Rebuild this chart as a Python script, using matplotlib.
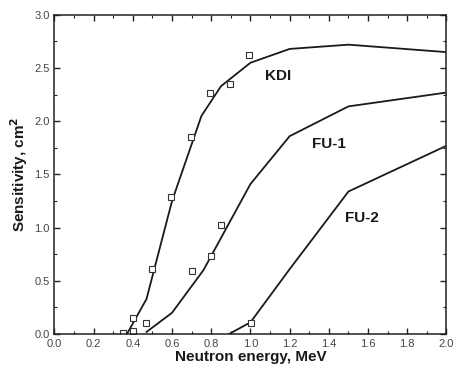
import matplotlib
matplotlib.use("Agg")
import matplotlib.pyplot as plt
from matplotlib.ticker import MultipleLocator

plt.rcParams['font.family'] = ['Liberation Sans', 'DejaVu Sans']

# Calculated curves
kdi_x = [0.37, 0.47, 0.60, 0.75, 0.85, 1.0, 1.2, 1.5, 2.0]
kdi_y = [0.0, 0.33, 1.25, 2.05, 2.33, 2.55, 2.68, 2.72, 2.65]
fu1_x = [0.47, 0.60, 0.76, 1.0, 1.2, 1.5, 2.0]
fu1_y = [0.02, 0.20, 0.60, 1.41, 1.86, 2.14, 2.27]
fu2_x = [0.89, 1.0, 1.2, 1.5, 2.0]
fu2_y = [0.0, 0.11, 0.61, 1.34, 1.77]

# Measured points
kdi_mx = [0.35, 0.40, 0.40, 0.50, 0.595, 0.695, 0.795, 0.895, 0.995]
kdi_my = [0.013, 0.147, 0.028, 0.61, 1.285, 1.853, 2.27, 2.35, 2.62]
fu1_mx = [0.467, 0.70, 0.80, 0.85]
fu1_my = [0.10, 0.596, 0.737, 1.025]
fu2_mx = [1.005]
fu2_my = [0.103]

labels = ["KDI", "FU-1", "FU-2"]
label_x = [1.14, 1.40, 1.57]
label_y = [2.43, 1.79, 1.09]

fig = plt.figure(figsize=(4.57, 3.72), dpi=100)
ax = fig.add_axes([0.119, 0.102, 0.858, 0.858])

lc = '#1a1a1a'
for x, y in [(kdi_x, kdi_y), (fu1_x, fu1_y), (fu2_x, fu2_y)]:
    ax.plot(x, y, color=lc, lw=1.3)
for x, y in [(kdi_mx, kdi_my), (fu1_mx, fu1_my), (fu2_mx, fu2_my)]:
    ax.plot(x, y, ls='none', marker='s', ms=4.2, mfc='white', mec='#333333', mew=0.8)

for t, x, y in zip(labels, label_x, label_y):
    ax.text(x, y, t, ha='center', va='center', fontsize=11, fontweight='bold', color='#1a1a1a')

ax.set_xlim(0, 2.0)
ax.set_ylim(0, 3.0)
ax.xaxis.set_major_locator(MultipleLocator(0.2))
ax.xaxis.set_minor_locator(MultipleLocator(0.1))
ax.yaxis.set_major_locator(MultipleLocator(0.5))
ax.yaxis.set_minor_locator(MultipleLocator(0.25))
ax.xaxis.set_major_formatter(matplotlib.ticker.FormatStrFormatter('%.1f'))
ax.yaxis.set_major_formatter(matplotlib.ticker.FormatStrFormatter('%.1f'))
ax.tick_params(which='both', direction='in', top=True, right=True, colors='#222222',
               labelsize=8, labelcolor='#444444')
ax.tick_params(which='major', length=4, width=1)
ax.tick_params(which='minor', length=2.5, width=0.8)
for s in ax.spines.values():
    s.set_linewidth(1.1)
    s.set_color('#222222')

ax.set_xlabel("Neutron energy, MeV", fontsize=11, fontweight='bold', color='#1a1a1a', labelpad=1)
ax.set_ylabel("Sensitivity, cm$^\\mathbf{2}$", fontsize=11, fontweight='bold', color='#1a1a1a', labelpad=3)

fig.savefig("out.png", dpi=100)
